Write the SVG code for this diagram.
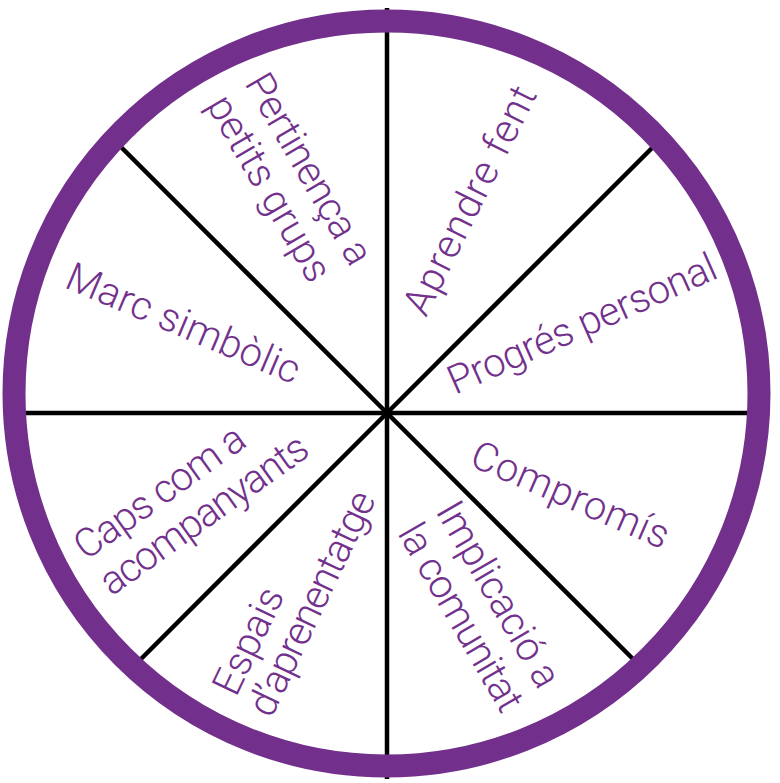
<svg xmlns="http://www.w3.org/2000/svg" width="780" height="783" viewBox="0 0 780 783">
<style>
.lbl{font-family:"Roboto","Liberation Sans",sans-serif;font-weight:300;font-size:40px;fill:#72318c}
.spoke{stroke:#000;stroke-width:4.5;fill:none}
.ring{fill:none;stroke:#72308c;stroke-width:23}
</style>
<rect width="780" height="783" fill="#fff"/>
<g id="connectors">
<line class="spoke" x1="387" y1="8" x2="387" y2="779"/>
<line class="spoke" x1="20" y1="413" x2="752" y2="413"/>
<line class="spoke" x1="387" y1="413" x2="117" y2="143"/>
<line class="spoke" x1="387" y1="413" x2="657" y2="143"/>
<line class="spoke" x1="387" y1="413" x2="137" y2="663"/>
<line class="spoke" x1="387" y1="413" x2="637" y2="663"/>
</g>
<circle class="ring" cx="386.5" cy="393.5" r="372.5"/>
<g id="marc"><text class="lbl" transform="translate(63,287) rotate(23)" textLength="250">Marc simbòlic</text></g>
<g id="pertinenca"><text class="lbl" transform="translate(244,83) rotate(60)"><tspan x="0" y="0" textLength="214">Pertinença a</tspan><tspan x="0" y="44" textLength="208">petits grups</tspan></text></g>
<g id="aprendre"><text class="lbl" transform="translate(426,318) rotate(-63.5)" textLength="250">Aprendre fent</text></g>
<g id="progres"><text class="lbl" transform="translate(455,395) rotate(-24)" textLength="290">Progrés personal</text></g>
<g id="compromis"><text class="lbl" transform="translate(468,465) rotate(23.5)" textLength="212">Compromís</text></g>
<g id="implicacio"><text class="lbl" transform="translate(435,511) rotate(60)"><tspan x="0" y="0" textLength="208">Implicació a</tspan><tspan x="0" y="44" textLength="210">la comunitat</tspan></text></g>
<g id="espais"><text class="lbl" transform="translate(236,698) rotate(-64.5)"><tspan x="0" y="0" textLength="114">Espais</tspan><tspan x="-4" y="41" textLength="244">d’aprenentatge</tspan></text></g>
<g id="caps"><text class="lbl" transform="translate(86,561) rotate(-35.5)"><tspan x="0" y="0" textLength="200">Caps com a</tspan><tspan x="0" y="44" textLength="246">acompanyants</tspan></text></g>
</svg>
